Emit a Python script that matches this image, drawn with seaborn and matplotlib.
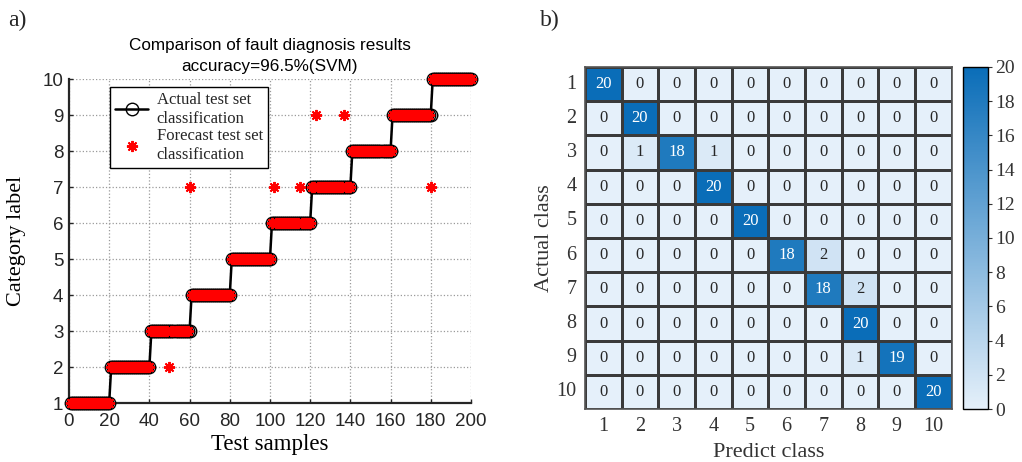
import numpy as np
import pandas as pd
import matplotlib
matplotlib.use("Agg")
import matplotlib.pyplot as plt
from matplotlib.colors import LinearSegmentedColormap
import seaborn as sns

# ---- data -------------------------------------------------------------
classes = [1, 2, 3, 4, 5, 6, 7, 8, 9, 10]
samples_per_class = [20, 20, 20, 20, 20, 20, 20, 20, 20, 20]

# misclassified test samples (sample index, predicted class)
error_samples = [50, 60, 102, 115, 123, 137, 180]
error_predicted = [2, 7, 7, 7, 9, 9, 7]

accuracy_text = "accuracy=96.5%(SVM)"

confusion = [
    [20, 0, 0, 0, 0, 0, 0, 0, 0, 0],
    [0, 20, 0, 0, 0, 0, 0, 0, 0, 0],
    [0, 1, 18, 1, 0, 0, 0, 0, 0, 0],
    [0, 0, 0, 20, 0, 0, 0, 0, 0, 0],
    [0, 0, 0, 0, 20, 0, 0, 0, 0, 0],
    [0, 0, 0, 0, 0, 18, 2, 0, 0, 0],
    [0, 0, 0, 0, 0, 0, 18, 2, 0, 0],
    [0, 0, 0, 0, 0, 0, 0, 20, 0, 0],
    [0, 0, 0, 0, 0, 0, 0, 1, 19, 0],
    [0, 0, 0, 0, 0, 0, 0, 0, 0, 20],
]
class_ticks = ["1", "2", "3", "4", "5", "6", "7", "8", "9", "10"]
cbar_ticks = [0, 2, 4, 6, 8, 10, 12, 14, 16, 18, 20]

# ---- derived tables -----------------------------------------------------
actual = np.repeat(classes, samples_per_class)
sample_idx = np.arange(1, len(actual) + 1)
predicted = actual.copy()
for s, p in zip(error_samples, error_predicted):
    predicted[s - 1] = p
df = pd.DataFrame({"sample": sample_idx, "actual": actual, "predicted": predicted})

# ---- style --------------------------------------------------------------
sns.set_theme(style="white")
SERIF = "Liberation Serif"
SANS = "Liberation Sans"
plt.rcParams["font.family"] = [SANS, "DejaVu Sans"]

fig = plt.figure(figsize=(10.22, 4.62), dpi=100)

# ---- a) diagnosis result comparison ------------------------------------
ax = fig.add_axes([0.0675, 0.1277, 0.3933, 0.7013])
sns.lineplot(data=df, x="sample", y="actual", ax=ax, color="black",
             linewidth=1.8, marker="o", markersize=9, markerfacecolor="none",
             markeredgecolor="black", markeredgewidth=1.0, clip_on=False,
             label="Actual test set\nclassification", zorder=3)
sns.lineplot(data=df, x="sample", y="predicted", ax=ax, color="red",
             linestyle="", marker=(8, 2, 0), markersize=8,
             markeredgecolor="red", markeredgewidth=1.4, clip_on=False,
             label="Forecast test set\nclassification", zorder=4)

ax.set_xlim(0, 200)
ax.set_ylim(1, 10)
ax.set_xticks(range(0, 201, 20))
ax.set_yticks(range(1, 11))
ax.grid(True, linestyle=":", color="#9a9a9a", linewidth=0.9)
for side in ("top", "right"):
    ax.spines[side].set_visible(False)
for side in ("left", "bottom"):
    ax.spines[side].set_color("#262626")
    ax.spines[side].set_linewidth(1.6)
ax.tick_params(axis="both", direction="in", length=3, width=1,
               labelsize=13.5, colors="#262626", pad=4, left=True, bottom=True)
ax.tick_params(axis="x", pad=7)
ax.set_xlabel("Test samples", fontfamily=SERIF, fontsize=16.5, color="black", labelpad=3)
ax.set_ylabel("Category label", fontfamily=SERIF, fontsize=16, color="black", labelpad=12)
ax.set_title("Comparison of fault diagnosis results\n" + accuracy_text,
             fontsize=12.3, color="black", pad=6, linespacing=1.5)
leg = ax.legend(loc="upper left", bbox_to_anchor=(0.102, 0.975), borderaxespad=0,
                frameon=True, fancybox=False, edgecolor="black", framealpha=1,
                prop={"family": SERIF, "size": 12}, handlelength=2.0,
                handletextpad=0.5, labelspacing=0.1, borderpad=0.3)
leg.get_frame().set_linewidth(1.0)
leg.set_zorder(10)

# ---- b) confusion matrix ------------------------------------------------
cmap = LinearSegmentedColormap.from_list("cm_blues", ["#e5f0fa", "#0a6db8"])
hax = fig.add_axes([0.5724, 0.1147, 0.3588, 0.7403])
cax = fig.add_axes([0.9423, 0.1147, 0.0245, 0.7403])
cm_df = pd.DataFrame(confusion, index=class_ticks, columns=class_ticks)
sns.heatmap(cm_df, ax=hax, cbar_ax=cax, cmap=cmap, vmin=0, vmax=20,
            annot=True, fmt="d", linewidths=1.0, linecolor="#3a3a3a",
            annot_kws={"fontfamily": SERIF, "fontsize": 12},
            cbar_kws={"ticks": cbar_ticks})
hax.set_xlabel("Predict class", fontfamily=SERIF, fontsize=16, color="#333333", labelpad=5)
hax.set_ylabel("Actual class", fontfamily=SERIF, fontsize=16, color="#333333", labelpad=2)
hax.tick_params(length=0, pad=6)
for lab in hax.get_xticklabels() + hax.get_yticklabels():
    lab.set_fontfamily(SERIF)
    lab.set_fontsize(14.5)
    lab.set_color("#333333")
    lab.set_rotation(0)
for side in ("top", "right", "left", "bottom"):
    hax.spines[side].set_visible(True)
    hax.spines[side].set_color("#555555")
    hax.spines[side].set_linewidth(1.2)

cax.tick_params(direction="out", length=3, width=0.8, labelsize=14, colors="#333333", pad=2)
for lab in cax.get_yticklabels():
    lab.set_fontfamily(SERIF)
cbar = hax.collections[0].colorbar
cbar.outline.set_visible(True)
cbar.outline.set_edgecolor("black")
cbar.outline.set_linewidth(1.0)

# ---- panel labels -------------------------------------------------------
fig.text(0.008, 0.955, "a)", fontfamily=SERIF, fontsize=17, va="center")
fig.text(0.528, 0.955, "b)", fontfamily=SERIF, fontsize=17, va="center")

fig.savefig("out.png", dpi=100)
